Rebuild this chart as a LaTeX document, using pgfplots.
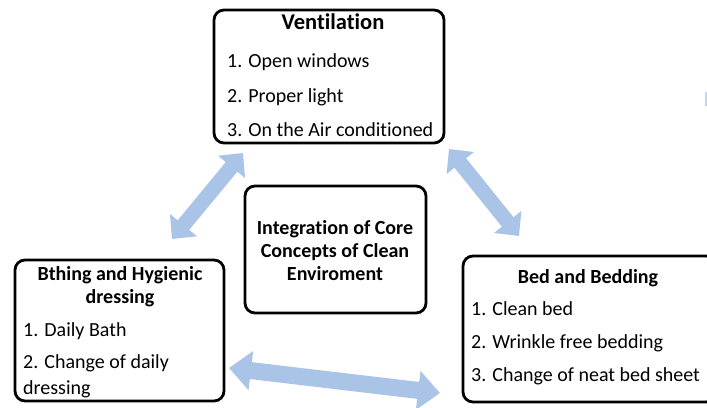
\documentclass[border=0pt]{standalone}
\usepackage{pgfplots}
\pgfplotsset{compat=1.18}
\usetikzlibrary{arrows.meta}
\usepackage{fontspec}
\setmainfont[Ligatures={NoCommon}]{Carlito}
\definecolor{arrowblue}{HTML}{A9C4E6}
\newcommand{\itemfont}{\fontsize{20bp}{24bp}\selectfont}
\newcommand{\headfont}{\fontsize{20bp}{24bp}\selectfont\bfseries}
\begin{document}
\begin{tikzpicture}
\begin{axis}[
  width=707bp, height=408bp, scale only axis,
  xmin=0, xmax=707, ymin=0, ymax=408, y dir=reverse,
  hide axis, clip=false]
% arrows
\draw[line width=15bp, arrowblue, {Triangle[length=18bp,width=34bp]}-{Triangle[length=18bp,width=34bp]}]
  (axis cs:243,153) -- (axis cs:172,239);
\draw[line width=15bp, arrowblue, {Triangle[length=18bp,width=34bp]}-{Triangle[length=18bp,width=34bp]}]
  (axis cs:449,149) -- (axis cs:519,236);
\draw[line width=17bp, arrowblue, {Triangle[length=22bp,width=38bp]}-{Triangle[length=22bp,width=38bp]}]
  (axis cs:229,368) -- (axis cs:440,393);
\fill[arrowblue!70] (axis cs:705,92) rectangle (axis cs:707,106);
% boxes
\draw[line width=2.8bp, rounded corners=10bp] (axis cs:214,10) rectangle (axis cs:444,143);
\draw[line width=2.8bp, rounded corners=10bp] (axis cs:245,186) rectangle (axis cs:426,313);
\draw[line width=2.8bp, rounded corners=10bp] (axis cs:15,260) rectangle (axis cs:224,401);
\draw[line width=2.8bp, rounded corners=10bp] (axis cs:463,256) rectangle (axis cs:716,402);
% Ventilation
\node[anchor=base, inner sep=0pt] at (axis cs:333,30) {\fontsize{22.5bp}{26bp}\selectfont\bfseries Ventilation};
\node[anchor=base west, inner sep=0pt] at (axis cs:227,67) {\itemfont 1. Open windows};
\node[anchor=base west, inner sep=0pt] at (axis cs:227,102) {\itemfont 2. Proper light};
\node[anchor=base west, inner sep=0pt] at (axis cs:227,136) {\itemfont 3. On the Air conditioned};
% centre
\node[anchor=base, inner sep=0pt] at (axis cs:335,234) {\headfont Integration of Core};
\node[anchor=base, inner sep=0pt] at (axis cs:335,257) {\headfont Concepts of Clean};
\node[anchor=base, inner sep=0pt] at (axis cs:335,280) {\headfont Enviroment};
% left
\node[anchor=base, inner sep=0pt] at (axis cs:120,280) {\headfont Bthing and Hygienic};
\node[anchor=base, inner sep=0pt] at (axis cs:120,303) {\headfont dressing};
\node[anchor=base west, inner sep=0pt] at (axis cs:23,336) {\itemfont 1. Daily Bath};
\node[anchor=base west, inner sep=0pt] at (axis cs:23,368) {\itemfont 2. Change of daily};
\node[anchor=base west, inner sep=0pt] at (axis cs:23,394) {\itemfont dressing};
% right
\node[anchor=base, inner sep=0pt] at (axis cs:588,283) {\headfont Bed and Bedding};
\node[anchor=base west, inner sep=0pt] at (axis cs:471,315) {\itemfont 1. Clean bed};
\node[anchor=base west, inner sep=0pt] at (axis cs:471,348) {\itemfont 2. Wrinkle free bedding};
\node[anchor=base west, inner sep=0pt] at (axis cs:471,381) {\itemfont 3. Change of neat bed sheet};
\end{axis}
\pgfresetboundingbox
\path (current axis.south west) rectangle (current axis.north east);
\end{tikzpicture}
\end{document}
